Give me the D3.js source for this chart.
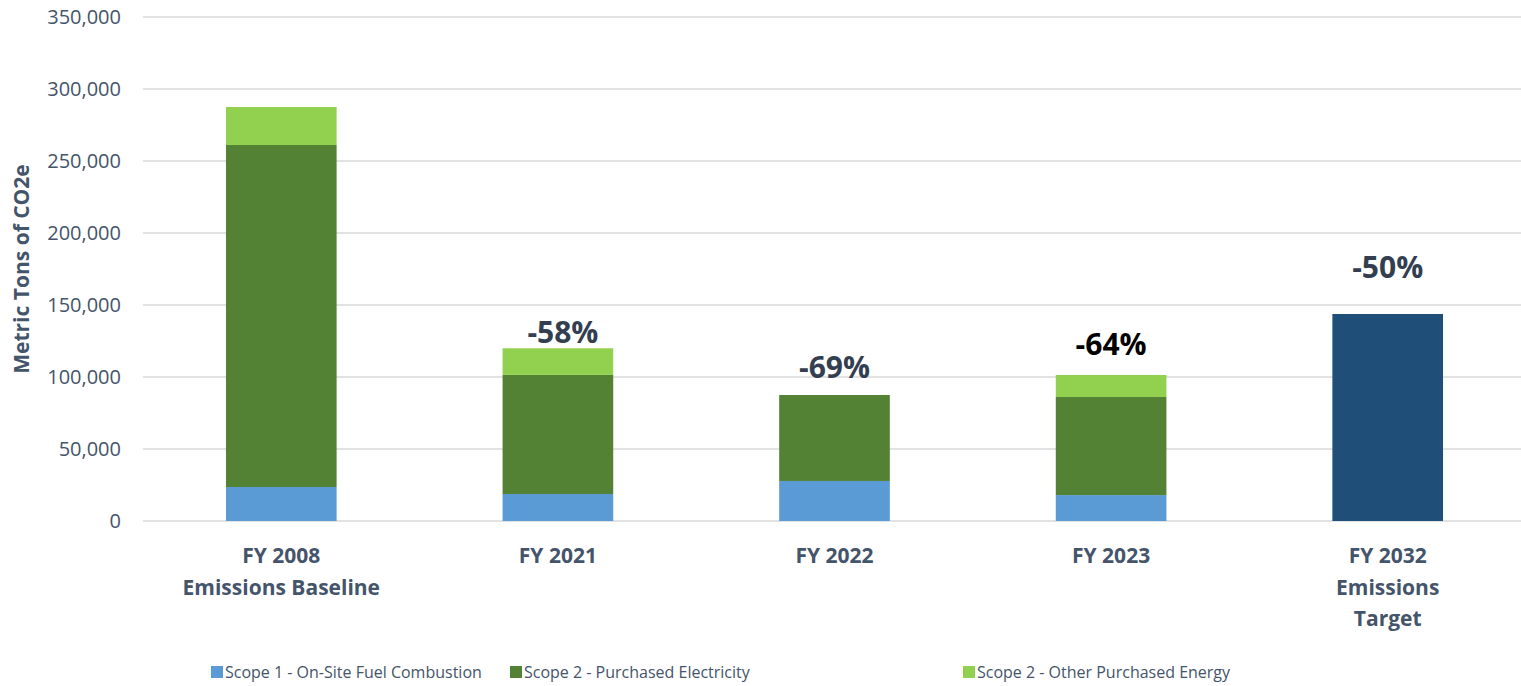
<!DOCTYPE html>
<html>
<head>
<meta charset="utf-8">
<script src="https://cdn.jsdelivr.net/npm/d3@7"></script>
<style>
  body { margin: 0; background: #fff; }
  text { font-family: "Open Sans", sans-serif; }
</style>
</head>
<body>
<div id="chart"></div>
<script>
// categories (multi-line labels)
const categories = [
  ["FY 2008", "Emissions Baseline"],
  ["FY 2021"],
  ["FY 2022"],
  ["FY 2023"],
  ["FY 2032", "Emissions", "Target"]
]
const scope1 = [23600, 18750, 27800, 18000, 0]
const scope2Elec = [237500, 82700, 59700, 68100, 0]
const scope2Other = [26400, 18500, 0, 15300, 0]
const target = [0, 0, 0, 0, 143750]

// percent labels and where they sit (in data units)
const pctLabels = [null, "-58%", "-69%", "-64%", "-50%"]
const pctLabelAt = [null, 123600, 99300, 115300, 168750]
const pctColors = [null, "#333f50", "#333f50", "#000000", "#333f50"]

const yTicks = [0, 50000, 100000, 150000, 200000, 250000, 300000, 350000]
const seriesNames = ["Scope 1 - On-Site Fuel Combustion", "Scope 2 - Purchased Electricity", "Scope 2 - Other Purchased Energy"]
const seriesColors = ["#5b9bd5", "#548235", "#92d050"]
const targetColor = "#1f4e79"
const textColor = "#44546a"

const width = 1521
const height = 686
const margin = ({ top: 17, right: -5, bottom: 165, left: 143 })

const svg = d3.select("#chart")
  .append("svg")
  .style("display", "block")
  .attr("width", width)
  .attr("height", height)

const x = d3.scaleBand()
  .domain(d3.range(categories.length))
  .range([margin.left, width - margin.right])
  .paddingInner(0.6)
  .paddingOuter(0.3)

const y = d3.scaleLinear()
  .domain([0, 350000])
  .range([height - margin.bottom, margin.top])

// gridlines + tick labels
svg.append("g")
  .selectAll("line")
  .data(yTicks)
  .join("line")
  .attr("x1", margin.left)
  .attr("x2", width)
  .attr("y1", d => y(d))
  .attr("y2", d => y(d))
  .attr("stroke", "#d9d9d9")
  .attr("stroke-width", 1.5)

svg.append("g")
  .selectAll("text")
  .data(yTicks)
  .join("text")
  .attr("x", 121)
  .attr("y", d => y(d))
  .attr("dy", "0.35em")
  .attr("text-anchor", "end")
  .attr("font-size", 20)
  .attr("fill", textColor)
  .text(d => d3.format(",")(d))

// y axis title
svg.append("text")
  .attr("transform", `translate(29,${y(175000) + 0}) rotate(-90)`)
  .attr("text-anchor", "middle")
  .attr("font-size", 21)
  .attr("font-weight", "bold")
  .attr("fill", textColor)
  .text("Metric Tons of CO2e")

// stacked bars
const rows = categories.map((c, i) => ({
  i: i,
  s1: scope1[i],
  s2: scope2Elec[i],
  s3: scope2Other[i]
}))
const stack = d3.stack().keys(["s1", "s2", "s3"])(rows)

svg.append("g")
  .selectAll("g")
  .data(stack)
  .join("g")
  .attr("fill", (d, k) => seriesColors[k])
  .selectAll("rect")
  .data(d => d.filter(p => p[1] > p[0]))
  .join("rect")
  .attr("x", d => x(d.data.i))
  .attr("width", x.bandwidth())
  .attr("y", d => y(d[1]))
  .attr("height", d => y(d[0]) - y(d[1]))

// target bar
svg.append("g")
  .selectAll("rect")
  .data(target.map((v, i) => ({ v, i })).filter(d => d.v > 0))
  .join("rect")
  .attr("x", d => x(d.i))
  .attr("width", x.bandwidth())
  .attr("y", d => y(d.v))
  .attr("height", d => y(0) - y(d.v))
  .attr("fill", targetColor)

// percent labels
svg.append("g")
  .selectAll("text")
  .data(pctLabels.map((t, i) => ({ t, i })).filter(d => d.t))
  .join("text")
  .attr("x", d => x(d.i) + x.bandwidth() / 2 + (d.i === 1 ? 5 : 0))
  .attr("y", d => y(pctLabelAt[d.i]))
  .attr("text-anchor", "middle")
  .attr("font-size", 30)
  .attr("font-weight", "bold")
  .attr("fill", d => pctColors[d.i])
  .text(d => d.t)

// category labels
const cat = svg.append("g")
  .selectAll("text")
  .data(categories)
  .join("text")
  .attr("x", (d, i) => x(i) + x.bandwidth() / 2)
  .attr("y", y(0) + 42)
  .attr("text-anchor", "middle")
  .attr("font-size", 21)
  .attr("font-weight", "bold")
  .attr("fill", textColor)

cat.selectAll("tspan")
  .data(d => d)
  .join("tspan")
  .attr("x", function () { return d3.select(this.parentNode).attr("x") })
  .attr("dy", (d, j) => j === 0 ? 0 : 31.5)
  .text(d => d)

// legend
const legendX = [211, 510, 963]
const legend = svg.append("g")
  .selectAll("g")
  .data(seriesNames)
  .join("g")
  .attr("transform", (d, i) => `translate(${legendX[i]},666)`)

legend.append("rect")
  .attr("width", 12)
  .attr("height", 12)
  .attr("fill", (d, i) => seriesColors[i])

legend.append("text")
  .attr("x", 14)
  .attr("y", 12)
  .attr("font-size", 16)
  .attr("fill", textColor)
  .text(d => d)
</script>
</body>
</html>
